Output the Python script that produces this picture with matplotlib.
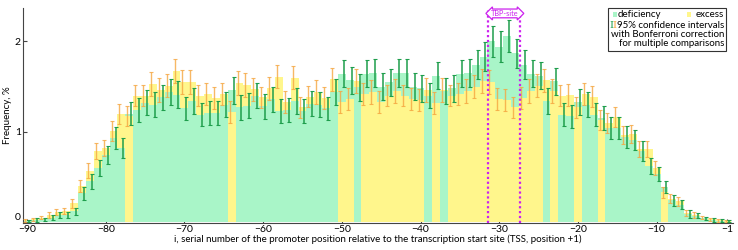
import numpy as np
import matplotlib
matplotlib.use("Agg")
import matplotlib.pyplot as plt
from matplotlib.patches import Rectangle

plt.rcParams['font.family'] = ['Lato', 'DejaVu Sans']

# promoter positions relative to TSS
positions = list(range(-90, 0))

# frequencies, % (green series and yellow series)
green_freq = [0.01, 0.02, 0.03, 0.05, 0.08, 0.08, 0.12, 0.32, 0.45, 0.60,
              0.74, 0.93, 0.82, 1.20, 1.24, 1.32, 1.30, 1.38, 1.44, 1.41,
              1.26, 1.34, 1.19, 1.21, 1.21, 1.30, 1.46, 1.27, 1.29, 1.40,
              1.28, 1.36, 1.23, 1.24, 1.34, 1.23, 1.31, 1.30, 1.26, 1.44,
              1.64, 1.57, 1.49, 1.64, 1.65, 1.50, 1.55, 1.65, 1.65, 1.50,
              1.48, 1.40, 1.62, 1.45, 1.48, 1.64, 1.65, 1.74, 1.83, 2.00,
              1.94, 2.06, 1.87, 1.74, 1.64, 1.62, 1.34, 1.56, 1.19, 1.17,
              1.33, 1.30, 1.19, 1.15, 1.04, 1.04, 0.94, 0.91, 0.79, 0.62,
              0.53, 0.39, 0.24, 0.19, 0.09, 0.07, 0.04, 0.025, 0.015, 0.01]
yellow_freq = [0.02, 0.03, 0.05, 0.08, 0.11, 0.12, 0.21, 0.40, 0.57, 0.79,
               0.82, 1.01, 1.20, 1.17, 1.40, 1.40, 1.53, 1.46, 1.51, 1.67,
               1.55, 1.55, 1.40, 1.42, 1.37, 1.42, 1.22, 1.54, 1.52, 1.47,
               1.38, 1.48, 1.61, 1.33, 1.60, 1.27, 1.39, 1.44, 1.37, 1.58,
               1.33, 1.36, 1.56, 1.42, 1.44, 1.33, 1.40, 1.45, 1.40, 1.36,
               1.35, 1.46, 1.32, 1.46, 1.40, 1.42, 1.45, 1.50, 1.56, 1.55,
               1.36, 1.35, 1.27, 1.37, 1.45, 1.51, 1.57, 1.45, 1.40, 1.41,
               1.27, 1.42, 1.39, 1.13, 1.10, 1.16, 0.96, 0.98, 0.81, 0.81,
               0.60, 0.33, 0.26, 0.23, 0.10, 0.08, 0.05, 0.03, 0.02, 0.01]

# half widths of the 95% confidence intervals (Bonferroni corrected)
green_err = [0.01, 0.02, 0.02, 0.03, 0.03, 0.03, 0.04, 0.07, 0.08, 0.09,
             0.10, 0.12, 0.11, 0.13, 0.13, 0.14, 0.14, 0.14, 0.14, 0.15,
             0.13, 0.14, 0.13, 0.13, 0.13, 0.14, 0.15, 0.14, 0.14, 0.14,
             0.14, 0.14, 0.13, 0.13, 0.14, 0.13, 0.14, 0.14, 0.13, 0.14,
             0.15, 0.15, 0.15, 0.15, 0.15, 0.15, 0.15, 0.15, 0.15, 0.15,
             0.15, 0.14, 0.15, 0.14, 0.15, 0.15, 0.15, 0.16, 0.16, 0.17,
             0.17, 0.18, 0.16, 0.16, 0.15, 0.15, 0.14, 0.15, 0.13, 0.13,
             0.14, 0.14, 0.13, 0.13, 0.12, 0.12, 0.12, 0.11, 0.11, 0.09,
             0.08, 0.07, 0.06, 0.05, 0.04, 0.03, 0.02, 0.02, 0.015, 0.01]
yellow_err = [0.015, 0.02, 0.02, 0.03, 0.035, 0.035, 0.05, 0.07, 0.08, 0.09,
              0.09, 0.11, 0.11, 0.11, 0.12, 0.12, 0.13, 0.13, 0.13, 0.13,
              0.13, 0.13, 0.12, 0.12, 0.12, 0.12, 0.12, 0.13, 0.13, 0.13,
              0.12, 0.13, 0.13, 0.12, 0.13, 0.12, 0.12, 0.13, 0.12, 0.13,
              0.12, 0.12, 0.13, 0.12, 0.13, 0.12, 0.12, 0.13, 0.12, 0.12,
              0.12, 0.13, 0.12, 0.13, 0.12, 0.12, 0.13, 0.13, 0.13, 0.13,
              0.12, 0.12, 0.12, 0.12, 0.13, 0.13, 0.13, 0.13, 0.12, 0.12,
              0.12, 0.12, 0.12, 0.11, 0.11, 0.11, 0.10, 0.10, 0.09, 0.09,
              0.08, 0.06, 0.05, 0.05, 0.03, 0.03, 0.02, 0.02, 0.015, 0.01]

tbp_site = (-31.4, -27.3)
xtick_vals = [-90, -80, -70, -60, -50, -40, -30, -20, -10, -1]

c_green = '#a9f5c8'
c_yellow = '#fff68c'
c_green_bar = '#1e9e4c'
c_orange_bar = '#f5a640'
c_tbp = '#cc22ee'

x = np.array(positions)
g = np.array(green_freq)
y = np.array(yellow_freq)

fig = plt.figure(figsize=(7.38, 2.5), dpi=100)
ax = fig.add_axes([0.0312, 0.108, 0.962, 0.86])

# taller bar first, shorter one on top of it
tall = np.maximum(g, y)
short = np.minimum(g, y)
tall_col = [c_green if gi >= yi else c_yellow for gi, yi in zip(g, y)]
short_col = [c_yellow if gi >= yi else c_green for gi, yi in zip(g, y)]
ax.bar(x, tall, width=1.0, color=tall_col, linewidth=0, zorder=1)
ax.bar(x, short, width=1.0, color=short_col, linewidth=0, zorder=2)

ax.errorbar(x - 0.25, y, yerr=yellow_err, fmt='none', ecolor=c_orange_bar,
            elinewidth=1.0, capsize=1.6, capthick=0.8, alpha=0.8, zorder=3)
ax.errorbar(x + 0.25, g, yerr=green_err, fmt='none', ecolor=c_green_bar,
            elinewidth=1.1, capsize=1.6, capthick=0.8, zorder=4)

# TBP-site
for xv in tbp_site:
    ax.axvline(xv, color=c_tbp, linestyle=(0, (1, 1.2)), linewidth=1.6, zorder=5)
ax.text(sum(tbp_site) / 2, 2.31, 'TBP-site', color=c_tbp, fontsize=5.3,
        ha='center', va='center', zorder=6,
        bbox=dict(boxstyle='darrow,pad=0.12', fc='white', ec=c_tbp, lw=0.9))

ax.set_xlim(-90.5, -0.3)
ax.set_ylim(-0.01, 2.37)
ax.set_xticks(xtick_vals)
ax.set_xticklabels([f'\u2212{abs(v)}' for v in xtick_vals])
ax.set_yticks([0, 1, 2])
ax.tick_params(direction='in', length=3, labelsize=7.5, pad=1.5, color='#444444')
ax.get_yticklabels()[0].set_va('bottom')
for s in ['top', 'right']:
    ax.spines[s].set_visible(False)
for s in ['left', 'bottom']:
    ax.spines[s].set_color('#444444')
ax.set_xlabel('i, serial number of the promoter position relative to the transcription start site (TSS, position +1)',
              fontsize=7, labelpad=0)
ax.set_ylabel('Frequency, %', fontsize=7, labelpad=2)

# legend (drawn by hand, figure pixel coordinates)
W, H = 738, 250
def fx(px):
    return px / W
def fy(py):
    return 1 - py / H

fig.patches.append(Rectangle((fx(608), fy(51)), (726 - 608) / W, (51 - 8.5) / H,
                             transform=fig.transFigure, fc='white', ec='#333333', lw=0.8, zorder=10))
fig.patches.append(Rectangle((fx(612.5), fy(17)), 4 / W, 5 / H, transform=fig.transFigure,
                             fc=c_green, ec='none', zorder=11))
fig.patches.append(Rectangle((fx(686.5), fy(17)), 4 / W, 5 / H, transform=fig.transFigure,
                             fc=c_yellow, ec='none', zorder=11))
fs = 7.0
fig.text(fx(618), fy(14.5), 'deficiency', fontsize=fs, va='center', ha='left', zorder=12)
fig.text(fx(724), fy(14.5), 'excess', fontsize=fs, va='center', ha='right', zorder=12)
fig.text(fx(609.5), fy(25), 'I', fontsize=fs, color=c_green_bar, family='DejaVu Serif',
         va='center', ha='left', zorder=12)
fig.text(fx(612.5), fy(25), 'I', fontsize=fs, color=c_orange_bar, family='DejaVu Serif',
         va='center', ha='left', zorder=12)
fig.text(fx(724), fy(25), '95% confidence intervals', fontsize=fs, va='center', ha='right', zorder=12)
fig.text(fx(724), fy(34.5), 'with Bonferroni correction', fontsize=fs, va='center', ha='right', zorder=12)
fig.text(fx(724), fy(44), 'for multiple comparisons', fontsize=fs, va='center', ha='right', zorder=12)

fig.savefig('out.png', dpi=100)
